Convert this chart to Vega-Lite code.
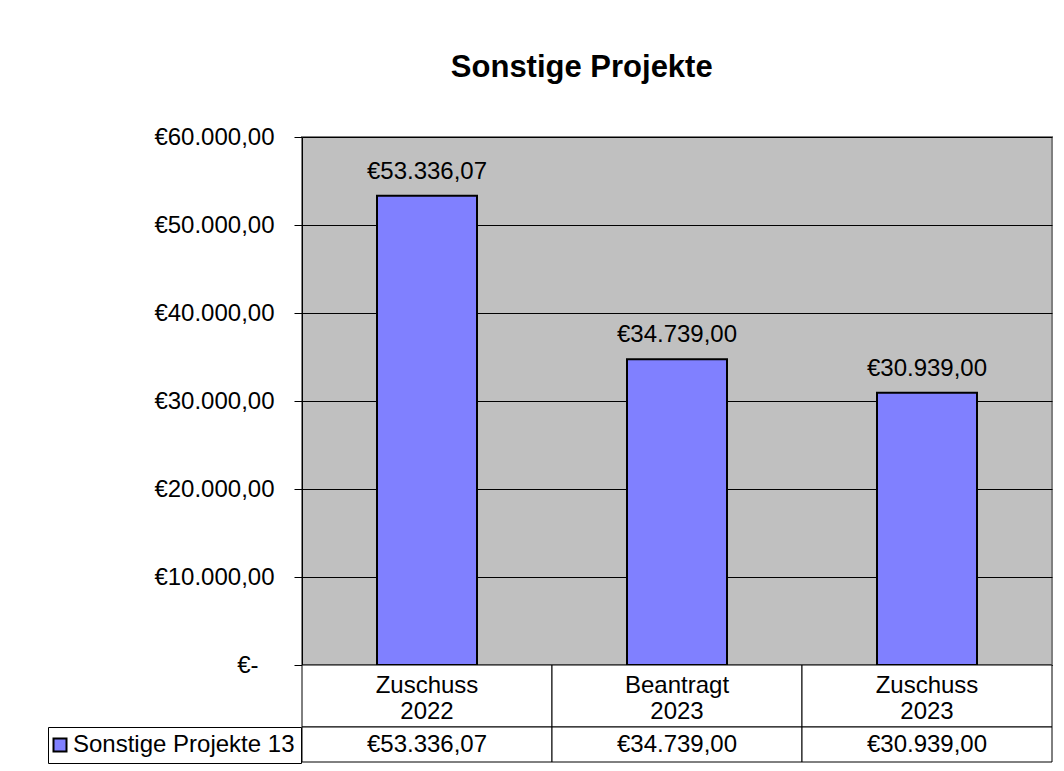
{
  "$schema": "https://vega.github.io/schema/vega-lite/v6.json",
  "background": "white",
  "padding": {"left": 46, "top": 52, "right": 14, "bottom": 8},
  "config": {
    "locale": {"number": {"decimal": ",", "thousands": ".", "grouping": [3], "currency": ["€", ""]}},
    "font": "Liberation Sans",
    "view": {"stroke": null}
  },
  "title": {"text": "Sonstige Projekte", "fontSize": 31, "fontWeight": "bold", "font": "Liberation Sans", "color": "black", "anchor": "middle", "offset": 40, "dx": 32},
  "datasets": {
    "werte": [
      {"kategorie": "Zuschuss 2022", "serie": "Sonstige Projekte 13", "wert": 53336.07},
      {"kategorie": "Beantragt 2023", "serie": "Sonstige Projekte 13", "wert": 34739.00},
      {"kategorie": "Zuschuss 2023", "serie": "Sonstige Projekte 13", "wert": 30939.00}
    ]
  },
  "data": {"name": "werte"},
  "spacing": 0,
  "bounds": "flush",
  "resolve": {"legend": {"color": "independent"}, "scale": {"x": "independent", "y": "independent"}},
  "vconcat": [
    {
      "width": 750,
      "height": 528,
      "view": {"fill": "#C0C0C0", "stroke": "#808080", "strokeWidth": 2},
      "encoding": {
        "x": {"field": "kategorie", "type": "nominal", "sort": null, "scale": {"paddingInner": 0.6, "paddingOuter": 0.3}, "axis": null},
        "y": {
          "field": "wert", "type": "quantitative",
          "scale": {"domain": [0, 60000], "nice": false, "zero": true},
          "axis": {
            "title": null,
            "values": [0, 10000, 20000, 30000, 40000, 50000, 60000],
            "format": "$,.2f",
            "labelExpr": "datum.value == 0 ? '€-' : datum.label",
            "labelFontSize": 24, "labelFont": "Liberation Sans", "labelColor": "black",
            "labelPadding": {"condition": {"test": "datum.value == 0", "value": 36}, "value": 20},
            "tickSize": 8, "tickColor": "black", "domainColor": "black",
            "gridColor": "black", "gridWidth": 1, "labelFlush": false
          }
        }
      },
      "layer": [
        {
          "mark": {"type": "bar", "stroke": "black", "strokeWidth": 2, "opacity": 1},
          "encoding": {
            "color": {
              "field": "serie", "type": "nominal",
              "scale": {"range": ["#8080FF"]},
              "legend": {
                "orient": "none", "legendX": -254, "legendY": 590,
                "title": null, "symbolType": "square", "symbolSize": 169,
                "symbolStrokeColor": "black", "symbolStrokeWidth": 2, "symbolOpacity": 1,
                "symbolOffset": -6,
                "labelFontSize": 24, "labelFont": "Liberation Sans", "labelColor": "black",
                "labelLimit": 400, "labelOffset": 1, "padding": 6,
                "strokeColor": "black", "fillColor": "white", "cornerRadius": 0
              }
            }
          }
        },
        {
          "mark": {"type": "text", "baseline": "alphabetic", "dy": -17, "fontSize": 24, "font": "Liberation Sans", "color": "black"},
          "encoding": {"text": {"field": "wert", "type": "quantitative", "format": "$,.2f"}}
        }
      ]
    },
    {
      "width": 750,
      "height": 62,
      "encoding": {
        "x": {"field": "kategorie", "type": "nominal", "sort": null, "scale": {"padding": 0}, "axis": null}
      },
      "layer": [
        {"mark": {"type": "rect", "fill": "white", "stroke": "black", "strokeWidth": 1}},
        {
          "mark": {"type": "text", "fontSize": 24, "font": "Liberation Sans", "lineBreak": " ", "lineHeight": 26, "baseline": "middle", "dy": -10, "color": "black"},
          "encoding": {"text": {"field": "kategorie", "type": "nominal"}}
        }
      ]
    },
    {
      "width": 750,
      "height": 35,
      "encoding": {
        "x": {"field": "kategorie", "type": "nominal", "sort": null, "scale": {"padding": 0}, "axis": null}
      },
      "layer": [
        {"mark": {"type": "rect", "fill": "white", "stroke": "black", "strokeWidth": 1}},
        {
          "mark": {"type": "text", "fontSize": 24, "font": "Liberation Sans", "baseline": "middle", "color": "black"},
          "encoding": {"text": {"field": "wert", "type": "quantitative", "format": "$,.2f"}}
        }
      ]
    }
  ]
}
